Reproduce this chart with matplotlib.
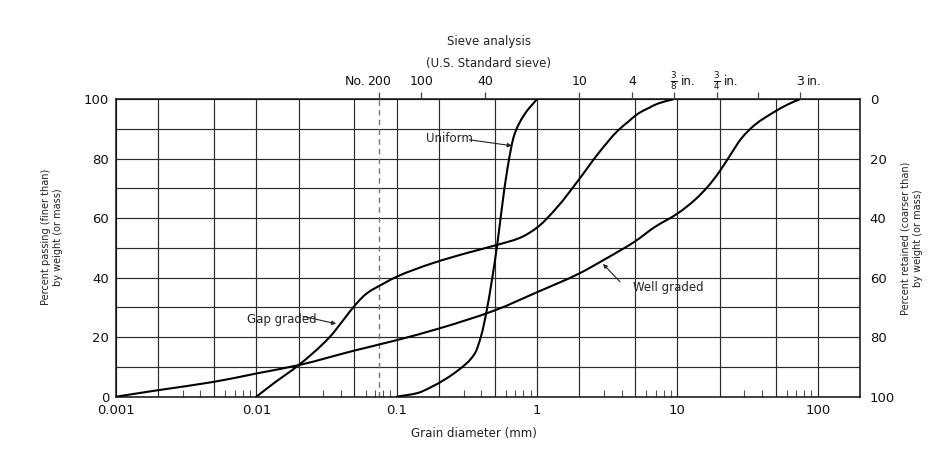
import numpy as np
import matplotlib
matplotlib.use("Agg")
import matplotlib.pyplot as plt
from matplotlib.ticker import FixedLocator, FixedFormatter, NullLocator
from matplotlib.path import Path
from matplotlib.patches import PathPatch

plt.rcParams['font.family'] = ['DejaVu Sans']
plt.rcParams['mathtext.fontset'] = 'dejavusans'

# ---------------- data ----------------
well_x = [0.001, 0.002, 0.005, 0.01, 0.02, 0.05, 0.1, 0.2, 0.5, 1.0, 2.0, 3.0,
          5.0, 6.9, 10.0, 13.3, 16.5, 20.0, 24.2, 28.5, 35.6, 50.0, 62.0, 75.0]
well_y = [0, 2.2, 5.0, 7.8, 10.6, 15.5, 19.0, 22.9, 29.0, 35.1, 41.4, 46.0,
          52.2, 57.0, 61.5, 66.1, 70.6, 75.7, 81.7, 86.7, 91.3, 95.9, 98.3, 100]

gap_x = [0.01, 0.0133, 0.02, 0.0334, 0.0416, 0.0517, 0.0612, 0.0813, 0.1, 0.179,
         0.307, 0.52, 0.75, 1.0, 1.4, 1.97, 2.73, 3.79, 4.5, 5.25, 6.2, 7.3, 9.5]
gap_y = [0, 4.5, 10.6, 20.1, 25.7, 31.3, 34.7, 38.1, 40.3, 44.8,
         48.1, 51.0, 53.3, 56.8, 63.8, 72.7, 81.7, 89.5, 92.5, 95.1, 96.9, 98.5, 100]

uni_x = [0.1, 0.14, 0.179, 0.276, 0.36, 0.40, 0.434, 0.477, 0.52, 0.56, 0.617, 0.687, 0.805, 1.0]
uni_y = [0, 1.2, 3.4, 9.0, 14.5, 20.5, 28.0, 39.2, 51.0, 63.0, 77.0, 87.8, 94.5, 100]

# x tick (grain diameter) labels
xtick_vals = [0.001, 0.01, 0.1, 1, 10, 100]
xtick_labels = ["0.001", "0.01", "0.1", "1", "10", "100"]

# sieve analysis (top axis)
sieve_mm = [0.075, 0.15, 0.425, 2.0, 4.75, 9.5, 19.0, 37.5, 75.0]
sieve_num = ["200", "100", "40", "10", "4", r"$\frac{3}{8}$", r"$\frac{3}{4}$", "", "3"]
sieve_prefix = ["No.", "", "", "", "", "", "", "", ""]
sieve_suffix = ["", "", "", "", "", "in.", "in.", "", "in."]

# curve labels
curve_labels = ["Uniform", "Gap graded", "Well graded"]
label_pos = [(0.239, 86.8), (0.0152, 26.1), (8.6, 36.8)]
arrow_tail = [(0.33, 86.3), (0.0215, 27.0), (3.9, 38.6)]
arrow_head = [(0.66, 84.3), (0.037, 24.5), (2.95, 44.6)]


def smooth_path(xs, ys):
    """Monotone cubic Hermite rendered as Bezier segments (in log-x space)."""
    lx = np.log10(np.asarray(xs, float))
    y = np.asarray(ys, float)
    h = np.diff(lx)
    d = np.diff(y) / h
    n = len(lx)
    m = np.zeros(n)
    m[0], m[-1] = d[0], d[-1]
    for i in range(1, n - 1):
        if d[i - 1] * d[i] <= 0:
            m[i] = 0
        else:
            w1 = 2 * h[i] + h[i - 1]
            w2 = h[i] + 2 * h[i - 1]
            m[i] = (w1 + w2) / (w1 / d[i - 1] + w2 / d[i])
    verts = [(lx[0], y[0])]
    codes = [Path.MOVETO]
    for i in range(n - 1):
        verts += [(lx[i] + h[i] / 3, y[i] + m[i] * h[i] / 3),
                  (lx[i + 1] - h[i] / 3, y[i + 1] - m[i + 1] * h[i] / 3),
                  (lx[i + 1], y[i + 1])]
        codes += [Path.CURVE4] * 3
    verts = [(10 ** vx, vy) for vx, vy in verts]
    return Path(verts, codes)


# ---------------- figure ----------------
W, H = 937, 455
fig = plt.figure(figsize=(W / 100, H / 100), dpi=100)
L, R, T, B = 116, 860, 99, 396.7
ax = fig.add_axes([L / W, 1 - B / H, (R - L) / W, (B - T) / H])

ax.set_xscale('log')
ax.set_xlim(0.001, 200)
ax.set_ylim(0, 100)

# grid at 1,2,5 per decade
grid_x = []
for d in [0.001, 0.01, 0.1, 1, 10, 100]:
    for mlt in (1, 2, 5):
        v = d * mlt
        if v <= 200:
            grid_x.append(v)
grid_lab = [xtick_labels[xtick_vals.index(v)] if v in xtick_vals else "" for v in grid_x]
ax.xaxis.set_major_locator(FixedLocator(grid_x))
ax.xaxis.set_major_formatter(FixedFormatter(grid_lab))
minor_x = []
for d in [0.001, 0.01, 0.1, 1, 10]:
    for mlt in (3, 4, 6, 7, 8, 9):
        minor_x.append(d * mlt)
ax.xaxis.set_minor_locator(FixedLocator(minor_x))
ax.xaxis.set_minor_formatter(FixedFormatter([""] * len(minor_x)))

ax.set_yticks(np.arange(0, 101, 10))
ax.set_yticklabels([str(v) if v % 20 == 0 else "" for v in range(0, 101, 10)])

ax.grid(True, which='major', color='#2a2a2a', linewidth=0.85)
ax.tick_params(axis='both', which='major', length=0, labelsize=9.5, colors='#111111')
ax.tick_params(axis='x', which='major', pad=5)
ax.tick_params(axis='y', which='major', pad=5)
ax.tick_params(axis='x', which='minor', direction='in', length=5, width=0.8,
               color='#555555', bottom=True, top=False)
for s in ax.spines.values():
    s.set_linewidth(1.1)
    s.set_color('#111111')

# dashed No.200 line
ax.axvline(0.075, color='#777777', linestyle=(0, (4, 3)), linewidth=1.0, zorder=2)

# curves
for xs, ys in [(well_x, well_y), (gap_x, gap_y), (uni_x, uni_y)]:
    p = PathPatch(smooth_path(xs, ys), facecolor='none', edgecolor='black',
                  linewidth=1.5, zorder=3, capstyle='round')
    ax.add_patch(p)

# curve labels with arrows
for lab, pos, tail, head in zip(curve_labels, label_pos, arrow_tail, arrow_head):
    ax.text(pos[0], pos[1], lab, fontsize=8.5, ha='center', va='center', color='#222222', zorder=5)
    ax.annotate("", xy=head, xytext=tail,
                arrowprops=dict(arrowstyle='-|>', color='#222222', lw=0.8,
                                mutation_scale=6, shrinkA=0, shrinkB=0), zorder=5)

# right axis (percent retained)
axr = ax.twinx()
axr.set_ylim(100, 0)
axr.set_yticks(np.arange(0, 101, 20))
axr.tick_params(axis='y', length=0, pad=7, labelsize=9.5, colors='#111111')
for s in axr.spines.values():
    s.set_visible(False)

# top axis (sieve)
axt = ax.twiny()
axt.set_xscale('log')
axt.set_xlim(ax.get_xlim())
axt.xaxis.set_major_locator(FixedLocator(sieve_mm))
axt.xaxis.set_major_formatter(FixedFormatter([""] * len(sieve_mm)))
axt.xaxis.set_minor_locator(NullLocator())
axt.tick_params(axis='x', direction='out', length=5, width=0.9, color='#444444')
for s in axt.spines.values():
    s.set_visible(False)

for mm, num, pre, suf in zip(sieve_mm, sieve_num, sieve_prefix, sieve_suffix):
    if num:
        ax.annotate(num, xy=(mm, 1), xycoords=('data', 'axes fraction'),
                    xytext=(0, 10), textcoords='offset points',
                    ha='center', va='baseline', fontsize=9, color='#111111')
    if pre:
        ax.annotate(pre, xy=(mm, 1), xycoords=('data', 'axes fraction'),
                    xytext=(-10, 10), textcoords='offset points',
                    ha='right', va='baseline', fontsize=9, color='#111111')
    if suf:
        ax.annotate(suf, xy=(mm, 1), xycoords=('data', 'axes fraction'),
                    xytext=(5, 10), textcoords='offset points',
                    ha='left', va='baseline', fontsize=8.5, color='#111111')

# titles / axis labels
fig.text(489 / W, 1 - 42 / H, "Sieve analysis", ha='center', va='center', fontsize=8.5, color='#222222')
fig.text(489 / W, 1 - 64 / H, "(U.S. Standard sieve)", ha='center', va='center', fontsize=8.5, color='#222222')
fig.text(474 / W, 1 - 433 / H, "Grain diameter (mm)", ha='center', va='center', fontsize=8.5, color='#222222')
fig.text(52 / W, 1 - 237 / H, "Percent passing (finer than)\nby weight (or mass)", rotation=90,
         ha='center', va='center', multialignment='center', fontsize=7, color='#222222',
         linespacing=1.3)
fig.text(912 / W, 1 - 238 / H, "Percent retained (coarser than)\nby weight (or mass)", rotation=90,
         ha='center', va='center', multialignment='center', fontsize=7, color='#222222',
         linespacing=1.3)

fig.savefig("out.png", dpi=100, facecolor='white')
